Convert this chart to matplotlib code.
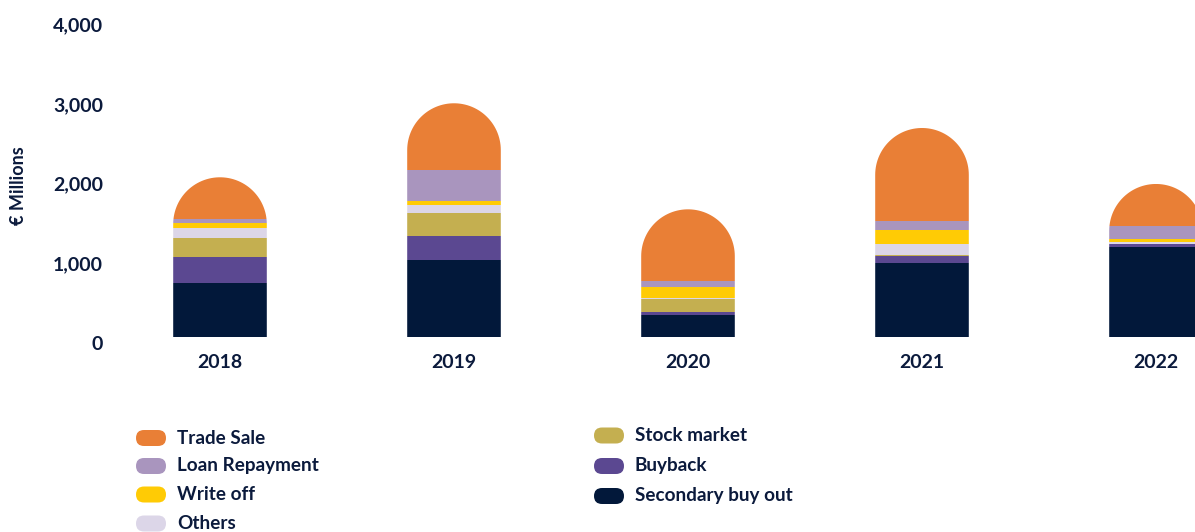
import numpy as np
import matplotlib.pyplot as plt
from matplotlib.path import Path
from matplotlib.patches import PathPatch, FancyBboxPatch
from matplotlib.transforms import IdentityTransform, ScaledTranslation

# exits by route, € millions, stacked bottom to top
years = ['2018', '2019', '2020', '2021', '2022']
secondary_buy_out = [683, 968, 277, 931, 1136]
buyback = [323, 302, 37, 88, 30]
stock_market = [239, 290, 164, 12, 8]
others = [126, 100, 13, 139, 15]
write_off = [63, 51, 138, 176, 38]
loan_repayment = [50, 389, 75, 113, 165]
trade_sale = [525, 840, 902, 1170, 533]

series = [
    ('Secondary buy out', secondary_buy_out, '#02183A'),
    ('Buyback', buyback, '#5B4891'),
    ('Stock market', stock_market, '#C4AF50'),
    ('Others', others, '#DCD6E8'),
    ('Write off', write_off, '#FFCB05'),
    ('Loan Repayment', loan_repayment, '#A995BE'),
    ('Trade Sale', trade_sale, '#E97F36'),
]

TXT = '#0B1A3C'
FONT = 'Lato'
W, H = 1195, 532
BAR_W = 0.4

fig = plt.figure(figsize=(W / 100, H / 100), dpi=100)
plt.rcParams['font.family'] = [FONT, 'DejaVu Sans']

xlim = (-0.45, 4.55)
ylim = (0, 4000)
ax_left, ax_bottom = 114.7 / W, 195 / H
ax_w, ax_h = 1170 / W, 318 / H
ax = fig.add_axes([ax_left, ax_bottom, ax_w, ax_h])
ax.set_xlim(*xlim)
ax.set_ylim(*ylim)

x = np.arange(len(years))

# rounded top: horizontal radius = half the bar, vertical radius in data units
px_per_x = ax_w * W / (xlim[1] - xlim[0])
px_per_y = ax_h * H / (ylim[1] - ylim[0])
rx = BAR_W / 2
ry = rx * px_per_x / px_per_y

totals = np.sum([s[1] for s in series], axis=0)
clips = []
for xi, tot in zip(x, totals):
    t = np.linspace(0, np.pi, 60)
    arc = np.column_stack([xi + rx * np.cos(t), tot - ry + ry * np.sin(t)])
    verts = np.vstack([[xi + rx, 0], arc, [xi - rx, 0], [xi + rx, 0]])
    codes = [Path.MOVETO] + [Path.LINETO] * (len(verts) - 2) + [Path.CLOSEPOLY]
    clips.append(PathPatch(Path(verts, codes), transform=ax.transData))

bottom = np.zeros(len(years))
for name, vals, col in series:
    bars = ax.bar(x, vals, BAR_W, bottom=bottom, color=col, linewidth=0)
    for rect, cp in zip(bars.patches, clips):
        rect.set_clip_path(cp)
    bottom += np.array(vals)

for sp in ax.spines.values():
    sp.set_visible(False)

ax.set_xticks(x)
ax.set_xticklabels(years)
ax.set_yticks([0, 1000, 2000, 3000, 4000])
ax.set_yticklabels(['0', '1,000', '2,000', '3,000', '4,000'])
ax.tick_params(axis='both', length=0, labelsize=14, labelcolor=TXT)
ax.tick_params(axis='x', pad=12)
ax.tick_params(axis='y', pad=8.5)
for lab in ax.get_xticklabels() + ax.get_yticklabels():
    lab.set_fontweight('bold')
for lab in ax.get_yticklabels():
    lab.set_transform(lab.get_transform() + ScaledTranslation(0, -4 / 72, fig.dpi_scale_trans))

ax.set_ylabel('€ Millions', fontsize=13, fontweight='bold', color=TXT)
ax.yaxis.set_label_coords(-0.075, 0.475)

# legend with pill-shaped swatches, positions in pixels from the top left
legend_cols = [
    (136, 177, [('Trade Sale', '#E97F36', 438), ('Loan Repayment', '#A995BE', 466),
                ('Write off', '#FFCB05', 494.5), ('Others', '#DCD6E8', 523.5)]),
    (594, 635, [('Stock market', '#C4AF50', 435.5), ('Buyback', '#5B4891', 466),
                ('Secondary buy out', '#02183A', 496)]),
]
for mx, tx, items in legend_cols:
    for label, col, yc in items:
        pill = FancyBboxPatch((mx, H - yc - 8), 30, 16,
                              boxstyle='round,pad=0,rounding_size=8',
                              facecolor=col, edgecolor='none',
                              transform=IdentityTransform())
        fig.add_artist(pill)
        fig.text(tx / W, (H - yc) / H, label, fontsize=13.6, fontweight='bold',
                 color=TXT, va='center', ha='left')

fig.savefig('out.png', dpi=100)
